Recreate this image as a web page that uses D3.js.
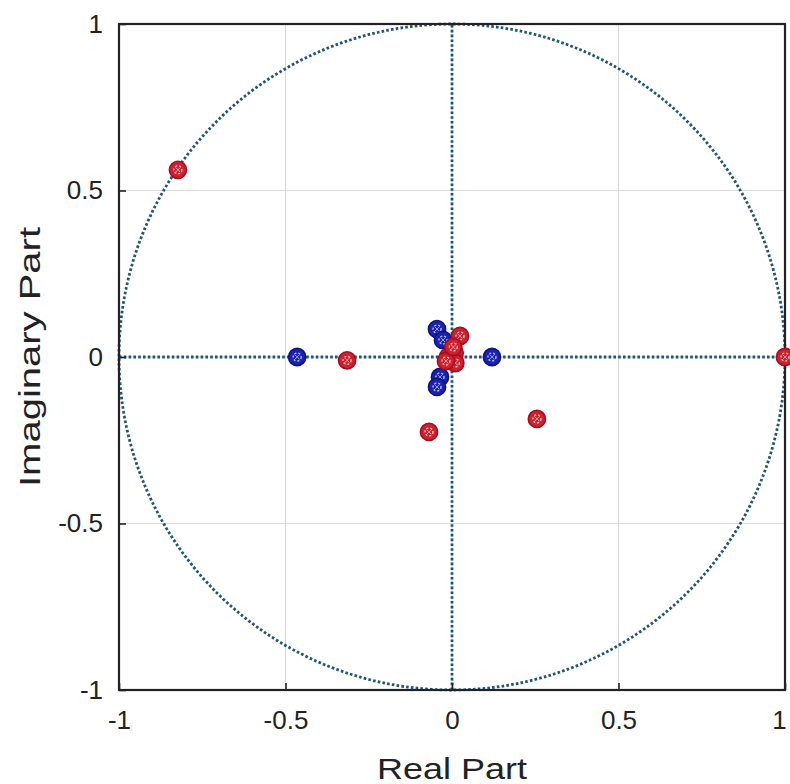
<!DOCTYPE html>
<html>
<head>
<meta charset="utf-8">
<script src="https://cdn.jsdelivr.net/npm/d3@7"></script>
<style>
  body { margin: 0; background: #fff; }
  text { font-family: "Liberation Sans", Arial, sans-serif; fill: #222; }
</style>
</head>
<body>
<svg id="main-svg" width="790" height="784"></svg>
<script>
// zeros (blue) and poles (red)
var zerosRe = [-0.465, 0.12, -0.045, -0.027, -0.036, -0.045];
var zerosIm = [0.0, 0.0, 0.084, 0.051, -0.06, -0.09];
var polesRe = [-0.823, -0.315, 0.024, -0.069, 0.255, 1.0, -0.012, 0.008, 0.01, -0.018, 0.004];
var polesIm = [0.562, -0.01, 0.063, -0.225, -0.186, 0.0, 0.0, 0.012, -0.018, -0.012, 0.03];
var tickVals = [-1, -0.5, 0, 0.5, 1];
var tickLabels = ['-1', '-0.5', '0', '0.5', '1'];

var margin = {left: 119, top: 24, right: 5, bottom: 94};
var w = 666, h = 666;
var svg = d3.select('#main-svg');
var lineCol = '#1d5577';

var x = d3.scaleLinear().domain([-1, 1]).range([margin.left, margin.left + w]);
var y = d3.scaleLinear().domain([-1, 1]).range([margin.top + h, margin.top]);

// grid
var grid = svg.append('g').attr('id', 'grid');
grid.selectAll('.gx').data(tickVals).enter().append('line')
	.attr('x1', d => x(d)).attr('x2', d => x(d))
	.attr('y1', y(-1)).attr('y2', y(1))
	.attr('stroke', '#d9d9d9').attr('stroke-width', 1.2);
grid.selectAll('.gy').data(tickVals).enter().append('line')
	.attr('y1', d => y(d)).attr('y2', d => y(d))
	.attr('x1', x(-1)).attr('x2', x(1))
	.attr('stroke', '#d9d9d9').attr('stroke-width', 1.2);

// unit circle and axes, dotted
var dots = svg.append('g').attr('id', 'dots')
	.attr('stroke', lineCol).attr('stroke-width', 2.8)
	.attr('stroke-dasharray', '2.6,2.2').attr('fill', 'none');
dots.append('circle')
	.attr('cx', x(0)).attr('cy', y(0))
	.attr('r', x(1) - x(0));
dots.append('line')
	.attr('x1', x(-1)).attr('x2', x(1))
	.attr('y1', y(0)).attr('y2', y(0));
dots.append('line')
	.attr('x1', x(0)).attr('x2', x(0))
	.attr('y1', y(-1)).attr('y2', y(1));

// frame and axes
svg.append('rect')
	.attr('x', x(-1)).attr('y', y(1))
	.attr('width', w).attr('height', h)
	.attr('fill', 'none').attr('stroke', '#222').attr('stroke-width', 2.2);

var xAxis = d3.axisBottom(x).tickValues(tickVals).tickFormat((d, i) => tickLabels[i])
	.tickSizeInner(-7).tickSizeOuter(0).tickPadding(18);
var yAxis = d3.axisLeft(y).tickValues(tickVals).tickFormat((d, i) => tickLabels[i])
	.tickSizeInner(-7).tickSizeOuter(0).tickPadding(16);

var gx = svg.append('g').attr('transform', 'translate(0,' + (margin.top + h) + ')').call(xAxis);
var gy = svg.append('g').attr('transform', 'translate(' + margin.left + ',0)').call(yAxis);
[gx, gy].forEach(function(g) {
	g.select('.domain').remove();
	g.selectAll('.tick line').attr('stroke', '#222').attr('stroke-width', 1.6);
	g.selectAll('.tick text').attr('font-size', 26).attr('fill', '#222')
		.style('font-family', '"Liberation Sans", Arial, sans-serif');
});
gx.selectAll('.tick text').attr('dy', '0.8em');
// last x label sits against the page edge
gx.selectAll('.tick text').filter(d => d === 1).attr('text-anchor', 'end').attr('dx', '0.05em');

svg.append('text')
	.attr('x', x(0)).attr('y', 779)
	.attr('text-anchor', 'middle').attr('font-size', 30)
	.attr('textLength', 150).attr('lengthAdjust', 'spacingAndGlyphs')
	.text('Real Part');
svg.append('text')
	.attr('transform', 'translate(40,' + y(0) + ') rotate(-90)')
	.attr('text-anchor', 'middle').attr('font-size', 30)
	.attr('textLength', 260).attr('lengthAdjust', 'spacingAndGlyphs')
	.text('Imaginary Part');

// markers
function drawMarkers(re, im, fill, edge, id) {
	var data = re.map((v, i) => ({re: v, im: im[i]}));
	var g = svg.append('g').attr('id', id)
		.selectAll('g').data(data).enter().append('g')
		.attr('transform', d => 'translate(' + x(d.re) + ',' + y(d.im) + ')');
	g.append('circle').attr('r', 8.6)
		.attr('fill', fill).attr('stroke', edge).attr('stroke-width', 1.6);
	g.append('circle').attr('r', 4)
		.attr('fill', 'none').attr('stroke', '#ffffff').attr('stroke-opacity', 0.7)
		.attr('stroke-width', 1.4).attr('stroke-dasharray', '2,1.9');
	g.append('path').attr('d', 'M-2.5,-2.5L2.5,2.5M-2.5,2.5L2.5,-2.5')
		.attr('stroke', '#ffffff').attr('stroke-opacity', 0.55).attr('stroke-width', 1);
}
drawMarkers(zerosRe, zerosIm, '#1a22b0', '#0d1480', 'zeros');
drawMarkers(polesRe, polesIm, '#d0202e', '#a01020', 'poles');
</script>
</body>
</html>
